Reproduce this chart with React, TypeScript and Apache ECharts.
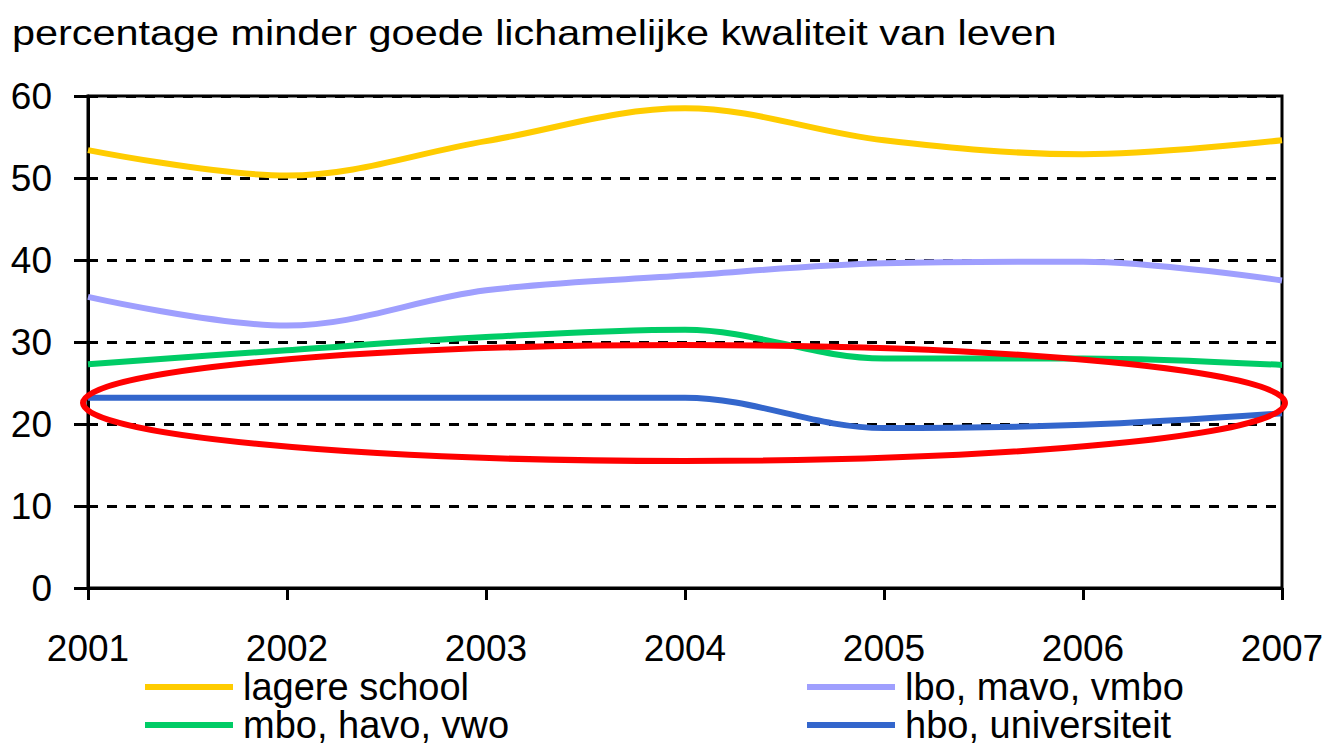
import React, { useEffect, useRef } from "react";
import * as echarts from "echarts";

const years = ["2001", "2002", "2003", "2004", "2005", "2006", "2007"];
const lagereSchool = [53.4, 50.3, 54.5, 58.5, 54.6, 52.9, 54.6];
const lboMavoVmbo = [35.5, 32.0, 36.3, 38.1, 39.6, 39.8, 37.5];
const mboHavoVwo = [27.3, 29.0, 30.6, 31.5, 28.0, 28.0, 27.2];
const hboUniversiteit = [23.2, 23.2, 23.2, 23.2, 19.5, 19.9, 21.3];
const yTicks = [0, 10, 20, 30, 40, 50, 60];
const title = "percentage minder goede lichamelijke kwaliteit van leven";

const FONT = "'Liberation Sans', Arial, sans-serif";

export default function App() {
  const ref = useRef<HTMLDivElement>(null);
  useEffect(() => {
    if (!ref.current) return;
    const chart = echarts.init(ref.current, undefined, { renderer: "svg" });
    const mk = (name: string, data: number[], color: string) => ({
      name,
      type: "line",
      data,
      smooth: 0.35,
      symbol: "none",
      lineStyle: { color, width: 6 },
      itemStyle: { color },
      z: 3,
    });
    const legendText = {
      fontSize: 38,
      lineHeight: 38,
      color: "#000",
      fontFamily: FONT,
      padding: [0, 0, 0, 5],
    };
    const leg = (name: string, left: number, top: number) => ({
      orient: "horizontal",
      left,
      top,
      padding: 0,
      itemWidth: 88,
      itemHeight: 6,
      icon: "rect",
      data: [name],
      textStyle: legendText,
    });
    chart.setOption({
      animation: false,
      backgroundColor: "#ffffff",
      textStyle: { fontFamily: FONT },
      grid: {
        left: 88,
        right: 50,
        top: 96,
        bottom: 159,
        show: true,
        borderColor: "#000",
        borderWidth: 3,
      },
      xAxis: {
        type: "category",
        data: years,
        boundaryGap: false,
        axisLine: { lineStyle: { color: "#000", width: 3 } },
        axisTick: { show: true, length: 12, lineStyle: { color: "#000", width: 3 } },
        axisLabel: { color: "#000", fontSize: 37, margin: 42, fontFamily: FONT },
        splitLine: { show: false },
      },
      yAxis: {
        type: "value",
        min: yTicks[0],
        max: yTicks[yTicks.length - 1],
        interval: 10,
        axisLine: { show: true, lineStyle: { color: "#000", width: 3 } },
        axisTick: { show: true, length: 14, lineStyle: { color: "#000", width: 3 } },
        axisLabel: { color: "#000", fontSize: 37, margin: 36, fontFamily: FONT },
        splitLine: { show: true, lineStyle: { color: "#000", width: 3, type: [10, 9] } },
      },
      legend: [
        leg("lagere school", 145, 668),
        leg("mbo, havo, vwo", 145, 706),
        leg("lbo, mavo, vmbo", 807, 668),
        leg("hbo, universiteit", 807, 706),
      ],
      graphic: [
        {
          type: "text",
          left: 12,
          top: 14,
          scaleX: 1.15,
          style: { text: title, fontFamily: FONT, fontSize: 36, fill: "#000" },
        },
        {
          type: "ellipse",
          shape: { cx: 684, cy: 403, rx: 601, ry: 58 },
          style: { fill: "none", stroke: "#ff0000", lineWidth: 6 },
          z: 10,
        },
      ],
      series: [
        mk("lagere school", lagereSchool, "#ffcc00"),
        mk("lbo, mavo, vmbo", lboMavoVmbo, "#9f9ffe"),
        mk("mbo, havo, vwo", mboHavoVwo, "#00cc66"),
        mk("hbo, universiteit", hboUniversiteit, "#3366cc"),
      ],
    });
    return () => chart.dispose();
  }, []);
  return <div ref={ref} style={{ width: 1332, height: 747, position: "absolute", left: 0, top: 0 }} />;
}
